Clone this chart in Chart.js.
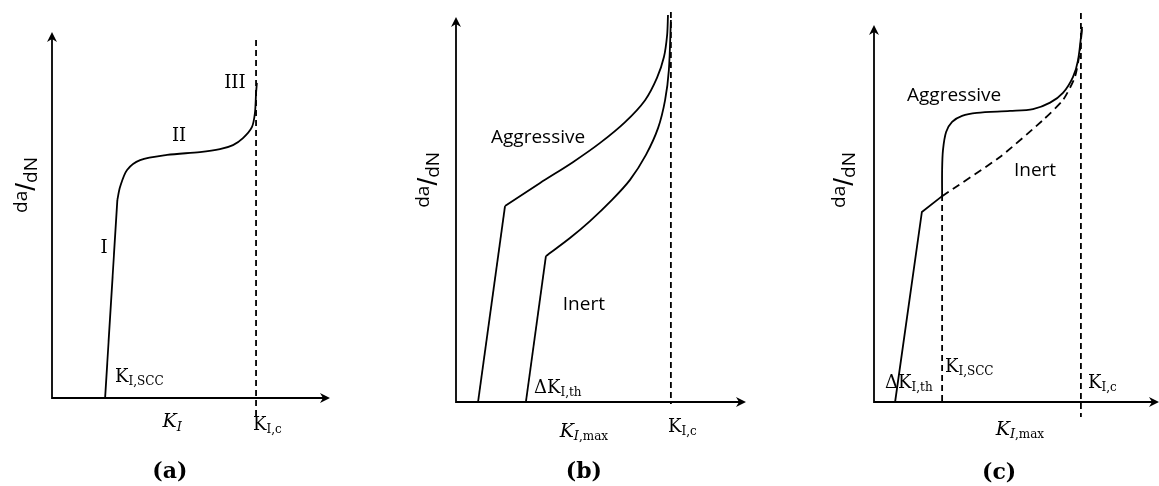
<!DOCTYPE html>
<html>
<head>
<meta charset="utf-8">
<script src="https://cdn.jsdelivr.net/npm/chart.js@4.4.1/dist/chart.umd.min.js"></script>
<style>
  html, body { margin: 0; padding: 0; background: #fff; }
  #wrap { position: relative; width: 1159px; height: 486px; overflow: hidden; }
  .panel { position: absolute; top: 0; height: 486px; }
</style>
</head>
<body>
<div id="wrap">
  <div class="panel" style="left:0;width:386px"><canvas id="chartA" width="386" height="486"></canvas></div>
  <div class="panel" style="left:386px;width:386px"><canvas id="chartB" width="386" height="486"></canvas></div>
  <div class="panel" style="left:772px;width:387px"><canvas id="chartC" width="387" height="486"></canvas></div>
</div>
<script>
// Schematic crack growth curves (da/dN against K), three panels.
// Both axes run 0..10 in arbitrary units, origin where the axes meet.

// --- (a) stress corrosion cracking ---
const aStageI = [[1.91, 0], [2.35, 5.41]];
const aStageIIandIII = [[2.35, 5.41], [2.45, 5.77], [2.70, 6.23], [3.17, 6.50], [4.14, 6.64],
  [5.32, 6.72], [6.04, 6.80], [6.51, 6.91], [6.87, 7.10], [7.19, 7.40], [7.30, 7.79],
  [7.34, 8.33], [7.37, 8.61]];
const aKIc = [[7.34, 9.78], [7.34, -0.52]];

// --- (b) fatigue, aggressive vs inert ---
const bAggressiveLine = [[0.76, 0], [1.69, 5.09]];
const bAggressiveCurve = [[1.69, 5.09], [2.90, 5.69], [4.03, 6.23], [4.97, 6.73], [5.83, 7.27],
  [6.52, 7.84], [6.93, 8.42], [7.17, 8.96], [7.28, 9.53], [7.31, 10.05]];
const bInertLine = [[2.41, 0], [3.10, 3.79]];
const bInertCurve = [[3.10, 3.79], [3.93, 4.26], [4.62, 4.70], [5.38, 5.25], [6.00, 5.77],
  [6.55, 6.42], [6.97, 7.12], [7.21, 7.84], [7.34, 8.62], [7.41, 9.92]];
const bKIc = [[7.41, 10.13], [7.41, -0.05]];

// --- (c) fatigue + stress corrosion ---
const cThreshold = [[0.74, 0], [1.68, 5.04], [2.39, 5.46]];
const cAggressive = [[2.39, 5.46], [2.39, 6.15], [2.42, 6.68], [2.53, 7.16], [2.74, 7.43],
  [3.09, 7.59], [3.61, 7.67], [4.77, 7.72], [5.58, 7.77], [6.18, 7.94], [6.63, 8.20],
  [6.98, 8.62], [7.16, 9.07], [7.30, 9.95]];
const cInert = [[2.39, 5.46], [4.42, 6.50], [5.93, 7.48], [6.63, 8.01], [7.05, 8.62],
  [7.23, 9.34], [7.30, 9.95]];
const cKIscc = [[2.39, 5.49], [2.39, 0]];
const cKIc = [[7.26, 10.32], [7.26, -0.40]];

// --- text labels: [x, y, align, parts] ; part = [text, font, dy] ---
const aLabels = [
  [6.58, 8.61, "center", [["III", "m"]]],
  [4.57, 7.16, "center", [["II", "m"]]],
  [1.87, 4.10, "center", [["I", "m"]]],
  [2.27, 0.57, "left", [["K", "m"], ["I,SCC", "s", 5]]],
  [4.32, -0.66, "center", [["K", "mi"], ["I", "si", 5]]],
  [7.23, -0.74, "left", [["K", "m"], ["I,c", "s", 5]]],
  [4.24, -2.02, "center", [["(a)", "big"]]]
];
const bLabels = [
  [2.83, 6.88, "center", [["Aggressive", "sans"]]],
  [4.41, 2.52, "center", [["Inert", "sans"]]],
  [2.69, 0.36, "left", [["ΔK", "m"], ["I,th", "s", 5]]],
  [4.41, -0.78, "center", [["K", "mi"], ["I", "si", 5], [",max", "s", 5]]],
  [7.31, -0.65, "left", [["K", "m"], ["I,c", "s", 5]]],
  [4.41, -1.82, "center", [["(b)", "big"]]]
];
const cLabels = [
  [2.81, 8.12, "center", [["Aggressive", "sans"]]],
  [5.65, 6.13, "center", [["Inert", "sans"]]],
  [2.49, 0.93, "left", [["K", "m"], ["I,SCC", "s", 5]]],
  [0.39, 0.50, "left", [["ΔK", "m"], ["I,th", "s", 5]]],
  [7.51, 0.50, "left", [["K", "m"], ["I,c", "s", 5]]],
  [5.12, -0.74, "center", [["K", "mi"], ["I", "si", 5], [",max", "s", 5]]],
  [4.39, -1.88, "center", [["(c)", "big"]]]
];
// where the rotated da/dN label sits
const aYLabel = [-0.90, 5.82];
const bYLabel = [-0.93, 5.77];
const cYLabel = [-1.02, 5.89];

var SERIF = '"DejaVu Serif", serif';
var SANS = '"Open Sans", sans-serif';
var FONTS = {
  m: "18px " + SERIF,
  s: "12px " + SERIF,
  mi: "italic 19px " + SERIF,
  si: "italic 13px " + SERIF,
  sans: "19px " + SANS,
  big: "bold 22px " + SERIF,
  yl: "19px " + SANS,
  slash: '28px "Liberation Sans", sans-serif'
};

function pts(arr) {
  return arr.map(function(p) { return { x: p[0], y: p[1] }; });
}

function line(arr, opts) {
  return Object.assign({
    data: pts(arr),
    borderColor: "#000",
    borderWidth: 1.8,
    pointRadius: 0,
    fill: false,
    tension: 0,
    clip: false
  }, opts || {});
}

function drawRuns(ctx, parts, x, y, align) {
  var w = 0;
  parts.forEach(function(p) { ctx.font = FONTS[p[1]]; w += ctx.measureText(p[0]).width; });
  var cx = align === "center" ? x - w / 2 : x;
  parts.forEach(function(p) {
    ctx.font = FONTS[p[1]];
    ctx.fillText(p[0], cx, y + (p[2] || 0));
    cx += ctx.measureText(p[0]).width;
  });
}

function arrowHead(ctx, x, y, dx, dy) {
  var L = 10, W = 5, N = 3;
  var px = -dy, py = dx;
  ctx.beginPath();
  ctx.moveTo(x, y);
  ctx.lineTo(x - dx * L + px * W, y - dy * L + py * W);
  ctx.lineTo(x - dx * (L - N), y - dy * (L - N));
  ctx.lineTo(x - dx * L - px * W, y - dy * L - py * W);
  ctx.closePath();
  ctx.fill();
}

var axesPlugin = {
  id: "axesArrows",
  beforeDatasetsDraw: function(chart) {
    var ctx = chart.ctx, xs = chart.scales.x, ys = chart.scales.y;
    var ox = xs.getPixelForValue(0), oy = ys.getPixelForValue(0);
    var ex = xs.getPixelForValue(10), ey = ys.getPixelForValue(10);
    ctx.save();
    ctx.strokeStyle = "#000";
    ctx.fillStyle = "#000";
    ctx.lineWidth = 1.8;
    ctx.beginPath();
    ctx.moveTo(ox, ey + 6);
    ctx.lineTo(ox, oy);
    ctx.lineTo(ex - 6, oy);
    ctx.stroke();
    arrowHead(ctx, ox, ey, 0, -1);
    arrowHead(ctx, ex, oy, 1, 0);
    ctx.restore();
  }
};

function textPlugin(labels, yLabel) {
  return {
    id: "texts",
    afterDraw: function(chart) {
      var ctx = chart.ctx, xs = chart.scales.x, ys = chart.scales.y;
      ctx.save();
      ctx.fillStyle = "#000";
      ctx.textBaseline = "middle";
      labels.forEach(function(l) {
        drawRuns(ctx, l[3], xs.getPixelForValue(l[0]), ys.getPixelForValue(l[1]), l[2]);
      });
      ctx.translate(xs.getPixelForValue(yLabel[0]), ys.getPixelForValue(yLabel[1]));
      ctx.rotate(-Math.PI / 2);
      drawRuns(ctx, [["da", "yl", -5], ["/", "slash", 0], ["dN", "yl", 5]], 0, 0, "center");
      ctx.restore();
    }
  };
}

function makePanel(id, datasets, pad, labels, yLabel) {
  return new Chart(document.getElementById(id), {
    type: "line",
    data: { datasets: datasets },
    options: {
      responsive: false,
      animation: false,
      events: [],
      layout: { padding: pad },
      plugins: { legend: { display: false }, tooltip: { enabled: false } },
      scales: {
        x: { type: "linear", min: 0, max: 10, display: false },
        y: { type: "linear", min: 0, max: 10, display: false }
      }
    },
    plugins: [axesPlugin, textPlugin(labels, yLabel)]
  });
}

makePanel("chartA", [
  line(aStageI),
  line(aStageIIandIII, { tension: 0.3 }),
  line(aKIc, { borderDash: [6, 4] })
], { left: 52, right: 56, top: 32, bottom: 88 }, aLabels, aYLabel);

makePanel("chartB", [
  line(bAggressiveLine),
  line(bAggressiveCurve, { tension: 0.3 }),
  line(bInertLine),
  line(bInertCurve, { tension: 0.3 }),
  line(bKIc, { borderDash: [6, 4] })
], { left: 70, right: 26, top: 17, bottom: 84 }, bLabels, bYLabel);

makePanel("chartC", [
  line(cThreshold),
  line(cAggressive, { tension: 0.3 }),
  line(cInert, { tension: 0.2, borderDash: [8, 5] }),
  line(cKIscc, { borderDash: [6, 4] }),
  line(cKIc, { borderDash: [6, 4] })
], { left: 102, right: 0, top: 25, bottom: 84 }, cLabels, cYLabel);
</script>
</body>
</html>
